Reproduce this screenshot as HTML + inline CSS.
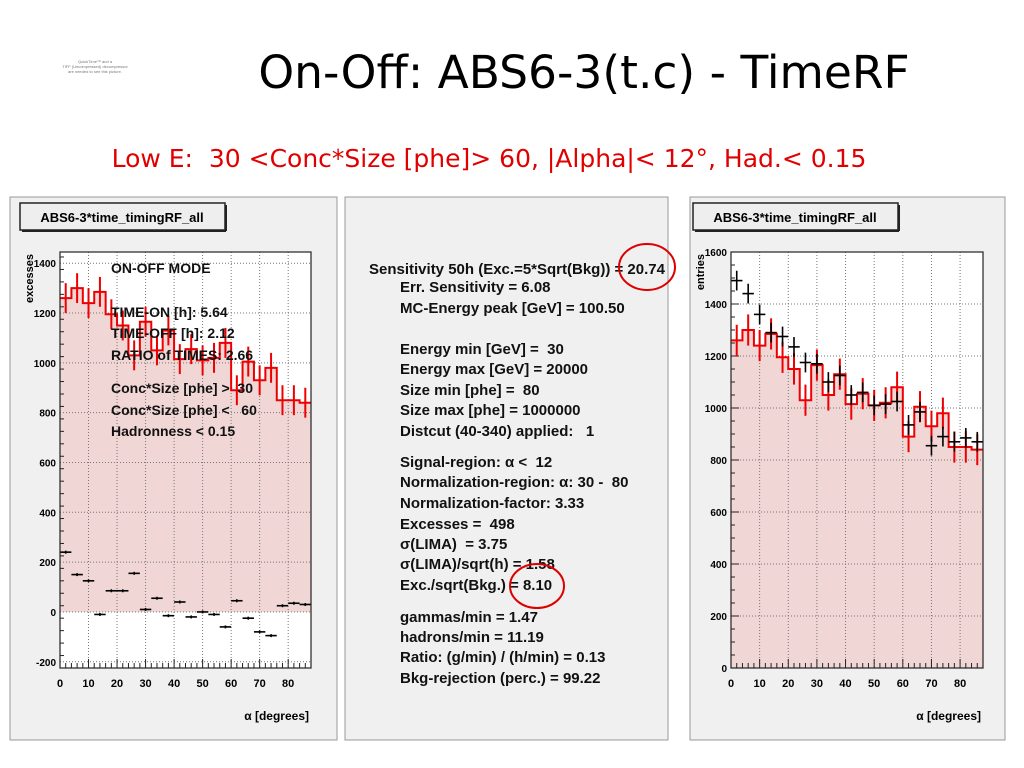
<!DOCTYPE html>
<html><head><meta charset="utf-8">
<style>
body{margin:0;width:1024px;height:768px;background:#fff;overflow:hidden;font-family:"Liberation Sans",sans-serif;}
svg{position:absolute;left:0;top:0}
text{white-space:pre}
</style></head>
<body>
<svg id="s" width="1024" height="768" xmlns="http://www.w3.org/2000/svg" xml:space="preserve">
<text x="95" y="63" font-size="4" text-anchor="middle" fill="#777">QuickTime™ and a</text>
<text x="95" y="68" font-size="4" text-anchor="middle" fill="#777">TIFF (Uncompressed) decompressor</text>
<text x="95" y="73" font-size="4" text-anchor="middle" fill="#777">are needed to see this picture.</text>
<text x="584" y="88" font-size="45.5" text-anchor="middle" font-family="DejaVu Sans, sans-serif" fill="#000">On-Off: ABS6-3(t.c) - TimeRF</text>
<text x="489" y="167" font-size="25" text-anchor="middle" font-family="DejaVu Sans, sans-serif" fill="#e00000">Low E:  30 &lt;Conc*Size [phe]&gt; 60, |Alpha|&lt; 12°, Had.&lt; 0.15</text>
<rect x="10" y="197" width="327" height="543" fill="#f0f0f0" stroke="#999"/>
<rect x="345" y="197" width="323" height="543" fill="#f0f0f0" stroke="#999"/>
<rect x="690" y="197" width="315" height="543" fill="#f0f0f0" stroke="#999"/>
<g id="mid" font-size="15" font-weight="bold" fill="#111"></g>
<ellipse cx="647" cy="267" rx="28" ry="23" fill="none" stroke="#d00" stroke-width="2"/>
<ellipse cx="537" cy="586" rx="27" ry="22" fill="none" stroke="#d00" stroke-width="2"/>
</svg>
<script>
const NS="http://www.w3.org/2000/svg";
const svg=document.getElementById('s');
const binCenters=[2,6,10,14,18,22,26,30,34,38,42,46,50,54,58,62,66,70,74,78,82,86];
const offValues=[1260,1300,1240,1285,1195,1150,1030,1165,1050,1130,1015,1055,1010,1020,1080,890,1005,930,980,850,850,840];
const onValues=[1490,1440,1360,1290,1275,1235,1175,1170,1100,1125,1050,1060,1010,1015,1025,935,985,855,890,870,885,870];
const excessValues=[240,150,125,-10,85,85,155,10,55,-15,40,-20,0,-10,-60,45,-25,-80,-95,25,35,30];
const xTicks=[0,10,20,30,40,50,60,70,80];
const leftYTicks=[-200,0,200,400,600,800,1000,1200,1400];
const rightYTicks=[0,200,400,600,800,1000,1200,1400,1600];
const leftInfo=[["ON-OFF MODE",268],["TIME-ON [h]: 5.64",312],["TIME-OFF [h]: 2.12",333],["RATIO of TIMES: 2.66",355],["Conc*Size [phe] >  30",388],["Conc*Size [phe] <   60",410],["Hadronness < 0.15",431]];
const statLines=[["Sensitivity 50h (Exc.=5*Sqrt(Bkg)) = 20.74",369,274],["Err. Sensitivity = 6.08",400,292],["MC-Energy peak [GeV] = 100.50",400,313],["Energy min [GeV] =  30",400,354],["Energy max [GeV] = 20000",400,374],["Size min [phe] =  80",400,395],["Size max [phe] = 1000000",400,415],["Distcut (40-340) applied:   1",400,436],["Signal-region: α <  12",400,467],["Normalization-region: α: 30 -  80",400,487],["Normalization-factor: 3.33",400,508],["Excesses =  498",400,529],["σ(LIMA)  = 3.75",400,549],["σ(LIMA)/sqrt(h) = 1.58",400,569],["Exc./sqrt(Bkg.) = 8.10",400,590],["gammas/min = 1.47",400,622],["hadrons/min = 11.19",400,642],["Ratio: (g/min) / (h/min) = 0.13",400,662],["Bkg-rejection (perc.) = 99.22",400,683]];
function el(t,a,p){const e=document.createElementNS(NS,t);for(const k in a)e.setAttribute(k,a[k]);(p||svg).appendChild(e);return e;}
const mid=document.getElementById('mid');
statLines.forEach(l=>{const t=el('text',{x:l[1],y:l[2]},mid);t.textContent=l[0];

});

function plot(o){
  const g=el('g',{});
  
  
  const X=v=>o.x0+(v-0)*(o.x1-o.x0)/88, Y=v=>o.y0-(v-o.ymin)*(o.y0-o.y1)/(o.ymax-o.ymin);
  const tb=el('rect',{x:o.tx,y:203,width:205,height:27,fill:'#eee',stroke:'#222','stroke-width':1.5},g);
  
  
  el('line',{x1:o.tx+2,y1:231,x2:o.tx+206,y2:231,stroke:'#222','stroke-width':2},g);
  el('line',{x1:o.tx+206,y1:205,x2:o.tx+206,y2:231,stroke:'#222','stroke-width':2},g);
  const tt=el('text',{x:o.tx+102,y:222,'font-size':13,'font-weight':'bold','text-anchor':'middle'},g);tt.textContent='ABS6-3*time_timingRF_all';
  
  
  el('rect',{x:o.x0,y:o.y1,width:o.x1-o.x0,height:o.y0-o.y1,fill:'#fff'},g);
  let d='M'+X(0)+','+Y(0);
  offValues.forEach((v,i)=>{d+=' L'+X(binCenters[i]-2)+','+Y(v)+' L'+X(binCenters[i]+2)+','+Y(v);});
  d+=' L'+X(88)+','+Y(0)+'Z';
  const f=el('path',{d:d,fill:'#f1d6d6'},g);
  
  
  xTicks.forEach(t=>{el('line',{x1:X(t),x2:X(t),y1:o.y1,y2:o.y0,stroke:'#777','stroke-dasharray':'1,2'},g);
    const tl=el('text',{x:X(t),y:o.y0+19,'font-size':11,'font-weight':'bold','text-anchor':'middle'},g);tl.textContent=t;
    
    });
  o.yt.forEach(t=>{el('line',{x1:o.x0,x2:o.x1,y1:Y(t),y2:Y(t),stroke:'#777','stroke-dasharray':'1,2'},g);
    const tl=el('text',{x:o.x0-4,y:Y(t)+4,'font-size':10,'font-weight':'bold','text-anchor':'end'},g);tl.textContent=t;
    
    });
  for(let v=0;v<=88;v+=2)el('line',{x1:X(v),x2:X(v),y1:o.y0,y2:o.y0-(v%10==0?9:5),stroke:'#222'},g);
  for(let v=o.ymin;v<=o.ymax;v+=50)el('line',{x1:o.x0,x2:o.x0+((v%200==0)?8:4),y1:Y(v),y2:Y(v),stroke:'#222'},g);
  let s='';offValues.forEach((v,i)=>{s+=(i?' L':'M')+X(binCenters[i]-2)+','+Y(v)+' L'+X(binCenters[i]+2)+','+Y(v);});
  const rl=el('path',{d:s,fill:'none',stroke:'#e00','stroke-width':2},g);
  
  
  offValues.forEach((v,i)=>{const e=el('line',{x1:X(binCenters[i]),x2:X(binCenters[i]),y1:Y(v+60),y2:Y(v-60),stroke:'#e00','stroke-width':2},g);
    
    });
  o.pts.forEach((v,i)=>{const c=binCenters[i];
    el('line',{x1:X(c-2),x2:X(c+2),y1:Y(v),y2:Y(v),stroke:'#000','stroke-width':1.6},g);
    const e=el('line',{x1:X(c),x2:X(c),y1:Y(v+o.err),y2:Y(v-o.err),stroke:'#000','stroke-width':1.6},g);
    
    });
  el('rect',{x:o.x0,y:o.y1,width:o.x1-o.x0,height:o.y0-o.y1,fill:'none',stroke:'#222','stroke-width':1.2},g);
  const xl=el('text',{x:o.x1-2,y:o.y0+52,'font-size':12,'font-weight':'bold','text-anchor':'end'},g);xl.textContent='α [degrees]';
  
  
  const yl=el('text',{x:0,y:0,'font-size':11,'font-weight':'bold','text-anchor':'end',transform:'translate('+(o.x0-27)+','+(o.y1+2)+') rotate(-90)'},g);yl.textContent=o.ylab;
  
  
  return g;
}
plot({name:'excess-histogram',x0:60,x1:311,y0:668,y1:252,ymin:-225,ymax:1445,yt:leftYTicks,pts:excessValues,err:6,ylab:'excesses',tx:20});
plot({name:'entries-histogram',x0:731,x1:983,y0:668,y1:252,ymin:0,ymax:1600,yt:rightYTicks,pts:onValues,err:38,ylab:'entries',tx:693});
const lg=el('g',{'font-size':14,'font-weight':'bold',fill:'#111'});


leftInfo.forEach(l=>{const t=el('text',{x:111,y:l[1]+5},lg);t.textContent=l[0];

});
</script>
</body></html>
